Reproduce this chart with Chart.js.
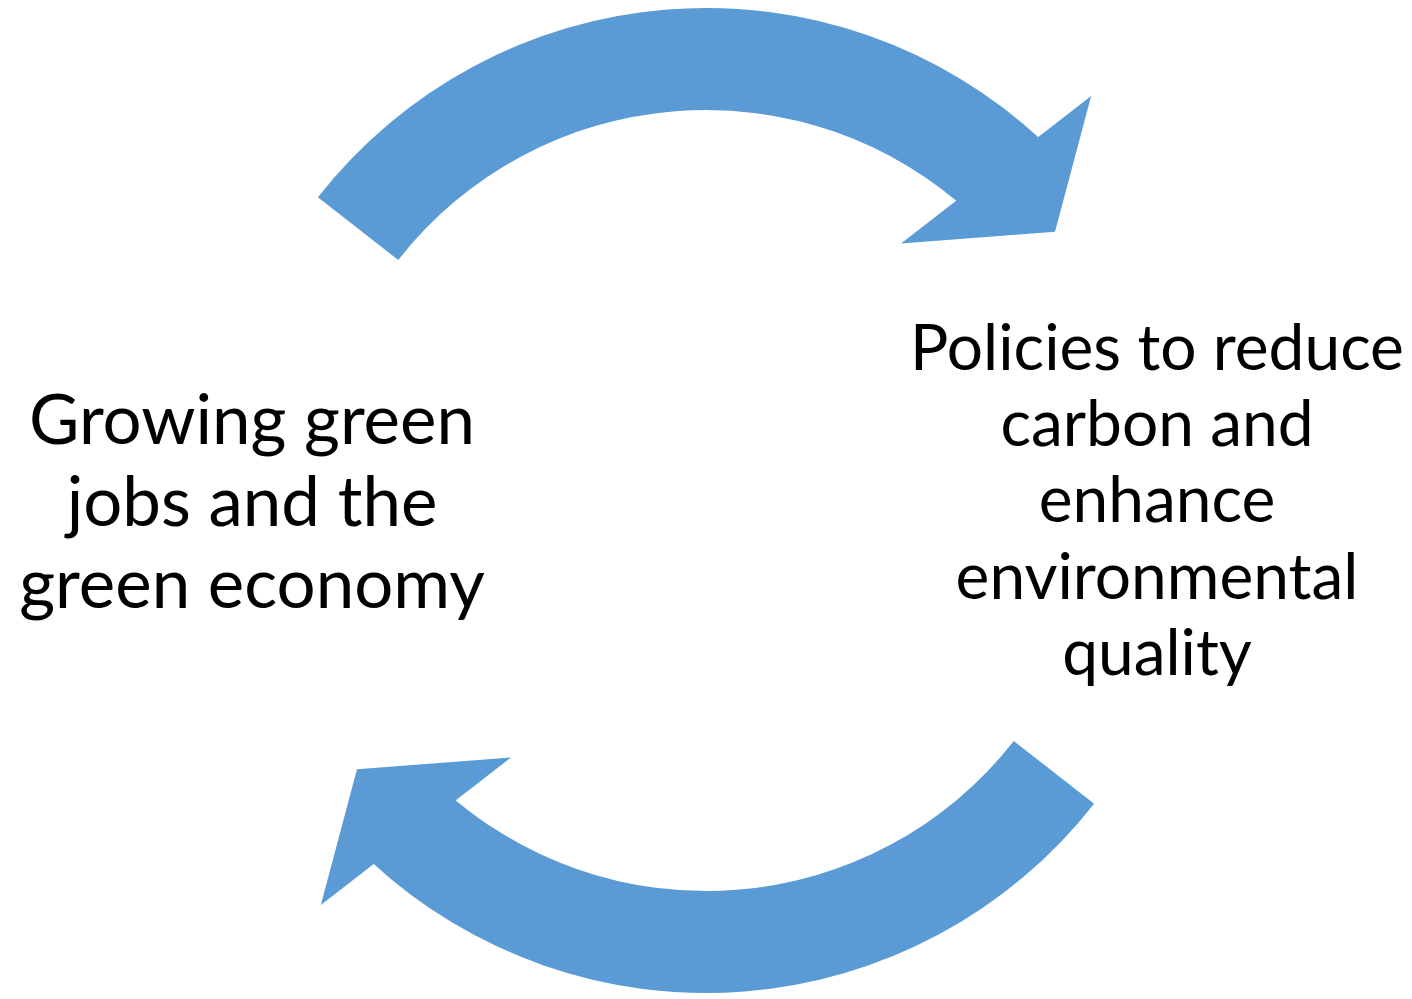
<!DOCTYPE html>
<html>
<head>
<meta charset="utf-8">
<script src="https://cdn.jsdelivr.net/npm/chart.js@4.4.0/dist/chart.umd.min.js"></script>
<style>
  html, body { margin: 0; padding: 0; background: #ffffff; }
  #wrap { width: 1412px; height: 999px; }
</style>
</head>
<body>
<div id="wrap"><canvas id="cycleChart" width="1412" height="999"></canvas></div>
<script>
// ring split in degrees, clockwise from the top-left end of the upper arrow
const segmentNames = ['to policies', 'gap right', 'to green jobs', 'gap left'];
const segmentDegrees = [95, 85, 95, 85];
const segmentColors = ['#5b9bd5', 'rgba(0,0,0,0)', '#5b9bd5', 'rgba(0,0,0,0)'];
const arrowSegments = [0, 2];

const leftLabel = ['Growing green', 'jobs and the', 'green economy'];
const rightLabel = ['Policies to reduce', 'carbon and', 'enhance', 'environmental', 'quality'];

const deg = Math.PI / 180;

// arrow heads drawn on the end of each arrow arc
const arrowHeads = {
    id: 'arrowHeads',
    afterDatasetsDraw(chart) {
        const ctx = chart.ctx;
        const meta = chart.getDatasetMeta(0);
        arrowSegments.forEach(i => {
            const arc = meta.data[i];
            const p = arc.getProps(['x', 'y', 'endAngle', 'innerRadius', 'outerRadius']);
            const e = p.endAngle;
            const mid = (p.innerRadius + p.outerRadius) / 2;
            const pt = (r, a) => [p.x + r * Math.cos(a), p.y + r * Math.sin(a)];
            const w1 = pt(p.outerRadius + 66, e + 0.6 * deg);
            const tip = pt(mid - 1, e + 9.4 * deg);
            const w2 = pt(p.innerRadius - 68, e - 5.8 * deg);
            ctx.save();
            ctx.fillStyle = segmentColors[i];
            ctx.beginPath();
            ctx.moveTo(w1[0], w1[1]);
            ctx.lineTo(tip[0], tip[1]);
            ctx.lineTo(w2[0], w2[1]);
            ctx.closePath();
            ctx.fill();
            ctx.restore();
        });
    }
};

// the two captions
const captions = {
    id: 'captions',
    afterDraw(chart) {
        const ctx = chart.ctx;
        ctx.save();
        ctx.fillStyle = '#000000';
        ctx.textAlign = 'center';
        ctx.textBaseline = 'alphabetic';
        ctx.font = '69px Lato';
        leftLabel.forEach((t, k) => ctx.fillText(t, 252, 444 + k * 82));
        ctx.font = '64px Lato';
        rightLabel.forEach((t, k) => ctx.fillText(t, 1157, 370 + k * 76.2));
        ctx.restore();
    }
};

new Chart(document.getElementById('cycleChart').getContext('2d'), {
    type: 'doughnut',
    data: {
        labels: segmentNames,
        datasets: [{
            data: segmentDegrees,
            backgroundColor: segmentColors,
            borderWidth: 0,
            hoverOffset: 0,
            offset: 0
        }]
    },
    options: {
        responsive: false,
        animation: false,
        events: [],
        rotation: -52,
        cutout: '79.3%',
        layout: { padding: { top: 8, bottom: 6 } },
        plugins: {
            legend: { display: false },
            tooltip: { enabled: false }
        }
    },
    plugins: [arrowHeads, captions]
});
</script>
</body>
</html>
